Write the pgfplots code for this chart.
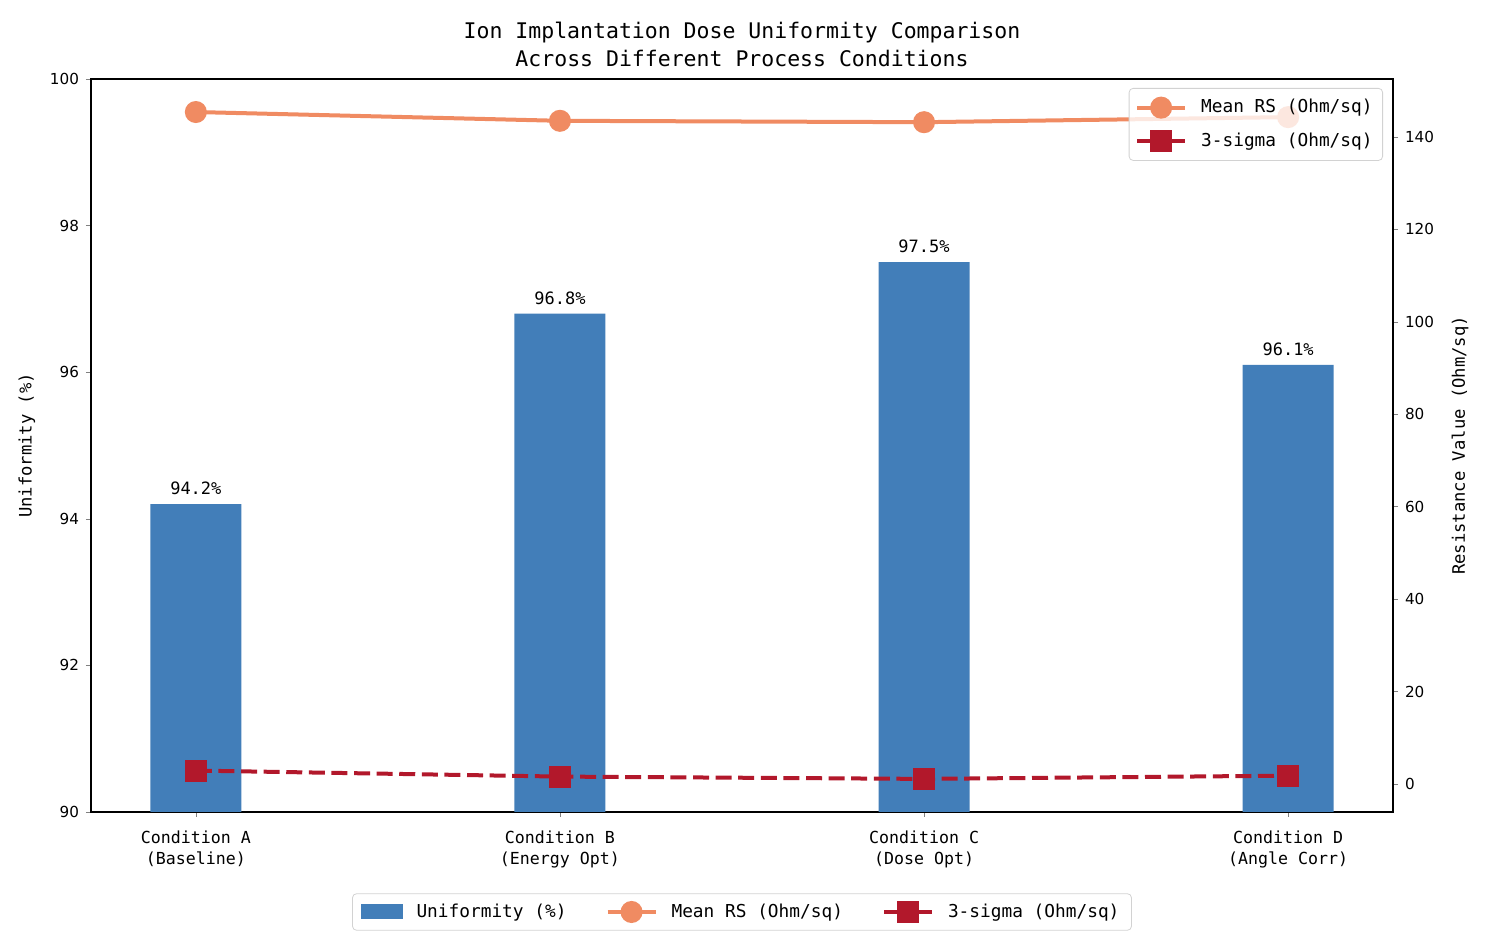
\documentclass[border=0pt]{standalone}
\usepackage{pgfplots}
\pgfplotsset{compat=1.18}
\usepackage{fontspec}
\setmainfont{DejaVu Sans Mono}
\newfontfamily\ticksfont{DejaVu Sans}
\definecolor{barblue}{RGB}{66,126,185}
\definecolor{rsorange}{RGB}{240,139,98}
\definecolor{sigred}{RGB}{178,24,43}
\pgfplotsset{linelegend/.style={legend image code/.code={\draw[##1, solid, sharp corners, fill opacity=1, draw opacity=1, mark repeat=2, mark phase=2] plot coordinates {(0pt,0pt) (12pt,0pt) (24pt,0pt)};}}}
\begin{document}
\begin{tikzpicture}
\useasboundingbox (-45.5pt,-67pt) rectangle (697pt,406pt);
\begin{axis}[
  at={(0pt,0pt)}, anchor=south west,
  scale only axis, width=651pt, height=366.5pt,
  xmin=-0.288, xmax=3.288,
  ymin=90, ymax=100,
  ytick={90,92,94,96,98,100},
  xtick={0,1,2,3},
  xticklabels={{Condition A\\(Baseline)},{Condition B\\(Energy Opt)},{Condition C\\(Dose Opt)},{Condition D\\(Angle Corr)}},
  xticklabel style={align=center, font=\fontsize{8.3}{10.5}\selectfont, yshift=-3.5pt},
  yticklabel style={font=\ticksfont\fontsize{7.6}{9}\selectfont},
  /pgf/number format/assume math mode=true,
  tick align=outside, major tick length=2.5pt,
  xtick pos=bottom, ytick pos=left,
  axis line style={line width=0.8pt},
  ylabel={Uniformity (\%)},
  ylabel style={at={(axis description cs:0,0.5)}, anchor=center, yshift=32pt, font=\fontsize{8.6}{10}\selectfont},
  legend columns=3,
  legend style={at={(axis description cs:0.5,0)}, anchor=center, yshift=-50pt,
    draw=gray!35, rounded corners=2pt, font=\fontsize{8.9}{11}\selectfont,
    /tikz/every odd column/.append style={column sep=5pt},
    /tikz/every even column/.append style={column sep=17.5pt},
    inner xsep=4pt, inner ysep=3pt},
]
\addplot[ybar, bar width=0.25, bar shift=0pt, fill=barblue, draw=none,
  nodes near coords={\pgfmathprintnumber[assume math mode=true,fixed,precision=1,fixed zerofill]{\pgfplotspointmeta}\%},
  every node near coord/.append style={font=\fontsize{8.5}{10}\selectfont, anchor=south, yshift=1pt},
  legend image code/.code={\fill[barblue, sharp corners] (0pt,-3.75pt) rectangle (21pt,3.75pt);}]
  coordinates {(0,94.2) (1,96.8) (2,97.5) (3,96.1)};
\addlegendentry{Uniformity (\%)}
\addlegendimage{rsorange, line width=2pt, mark=*, mark size=4.5pt, mark options={solid}, linelegend}
\addlegendentry{Mean RS (Ohm/sq)}
\addlegendimage{sigred, line width=2pt, mark=square*, mark size=4.5pt, mark options={solid}, linelegend}
\addlegendentry{3-sigma (Ohm/sq)}
\end{axis}
\begin{axis}[
  at={(0pt,0pt)}, anchor=south west,
  scale only axis, width=651pt, height=366.5pt,
  xmin=-0.288, xmax=3.288,
  ymin=-6.06, ymax=152.55,
  axis x line=none,
  axis y line*=right,
  ytick={0,20,40,60,80,100,120,140},
  yticklabel style={font=\ticksfont\fontsize{7.6}{9}\selectfont},
  /pgf/number format/assume math mode=true,
  tick align=outside, major tick length=2.5pt,
  axis line style={line width=0.8pt},
  ylabel={Resistance Value (Ohm/sq)},
  ylabel style={at={(axis description cs:1,0.5)}, anchor=center, yshift=-33.5pt, font=\fontsize{8.6}{10}\selectfont},
  legend style={at={(axis description cs:1,1)}, anchor=north east, xshift=-5pt, yshift=-4.5pt,
    draw=gray!35, rounded corners=2pt, fill=white, fill opacity=0.8, text opacity=1, draw opacity=1,
    font=\fontsize{8.9}{11}\selectfont, row sep=4.5pt, inner xsep=3pt, inner ysep=3.5pt,
    /tikz/every odd column/.append style={column sep=5pt}},
  legend cell align=left,
]
\addplot[rsorange, line width=2pt, mark=*, mark size=4.5pt, linelegend]
  coordinates {(0,145.4) (1,143.5) (2,143.2) (3,144.3)};
\addlegendentry{Mean RS (Ohm/sq)}
\addplot[sigred, line width=2pt, dash pattern=on 8pt off 3.3pt, mark=square*, mark size=4.5pt, mark options={solid}, linelegend]
  coordinates {(0,2.9) (1,1.6) (2,1.1) (3,1.8)};
\addlegendentry{3-sigma (Ohm/sq)}
\end{axis}
\node[align=center, font=\fontsize{10.75}{14}\selectfont] at (325.5pt,384pt)
  {Ion Implantation Dose Uniformity Comparison\\Across Different Process Conditions};
\end{tikzpicture}
\end{document}
